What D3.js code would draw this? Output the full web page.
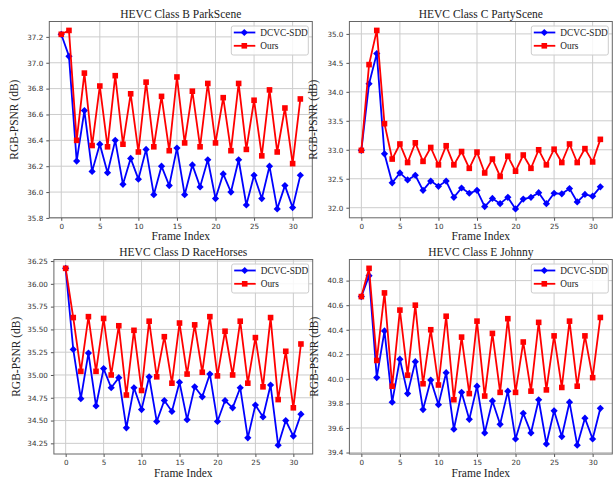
<!DOCTYPE html>
<html>
<head>
<meta charset="utf-8">
<script src="https://cdn.jsdelivr.net/npm/d3@7"></script>
<style>
  body { margin: 0; background: #fff; }
  svg text { font-family: "DejaVu Sans", sans-serif; font-weight: normal; }
</style>
</head>
<body>
<script>
// frame index on x
var frames = [0,1,2,3,4,5,6,7,8,9,10,11,12,13,14,15,16,17,18,19,20,21,22,23,24,25,26,27,28,29,30,31];
var seriesNames = ["DCVC-SDD", "Ours"];
var titles = ["HEVC Class B ParkScene", "HEVC Class C PartyScene", "HEVC Class D RaceHorses", "HEVC Class E Johnny"];
var xTicks = [0, 5, 10, 15, 20, 25, 30];

// Class B ParkScene
var bDcvc = [37.22,37.05,36.24,36.63,36.16,36.37,36.15,36.40,36.06,36.26,36.10,36.33,35.98,36.20,36.05,36.34,
             35.98,36.21,36.04,36.25,35.95,36.14,36.00,36.25,35.90,36.13,35.95,36.20,35.87,36.05,35.88,36.13];
var bOurs  = [37.22,37.25,36.40,36.92,36.36,36.82,36.35,36.90,36.37,36.76,36.31,36.85,36.35,36.74,36.32,36.89,
             36.38,36.78,36.35,36.84,36.38,36.73,36.32,36.84,36.33,36.71,36.28,36.79,36.31,36.65,36.22,36.72];
var bTicks = [35.8, 36.0, 36.2, 36.4, 36.6, 36.8, 37.0, 37.2];

// Class C PartyScene
var cDcvc = [32.99,34.14,34.66,32.93,32.43,32.60,32.48,32.56,32.30,32.46,32.37,32.46,32.18,32.34,32.25,32.30,
             32.02,32.16,32.07,32.18,31.98,32.15,32.18,32.26,32.07,32.25,32.24,32.33,32.10,32.23,32.20,32.36];
var cOurs  = [32.99,34.47,35.06,33.45,32.84,33.10,32.78,33.12,32.80,33.04,32.74,33.07,32.74,32.97,32.68,32.96,
             32.60,32.84,32.54,32.89,32.63,32.91,32.68,33.00,32.74,33.01,32.78,33.10,32.78,33.02,32.79,33.18];
var cTicks = [32.0, 32.5, 33.0, 33.5, 34.0, 34.5, 35.0];

// Class D RaceHorses
var dDcvc = [36.17,35.28,34.74,35.24,34.66,35.07,34.86,34.97,34.42,34.86,34.62,34.98,34.49,34.72,34.60,34.92,
             34.51,34.87,34.76,35.01,34.49,34.72,34.64,34.86,34.31,34.67,34.54,34.89,34.23,34.50,34.33,34.57];
var dOurs  = [36.17,35.63,35.04,35.64,35.04,35.62,35.00,35.54,34.78,35.49,34.83,35.59,34.98,35.42,34.91,35.57,
             35.01,35.55,35.03,35.64,34.99,35.48,35.00,35.59,34.91,35.41,34.87,35.63,34.73,35.26,34.64,35.34];
var dTicks = [34.25, 34.50, 34.75, 35.00, 35.25, 35.50, 35.75, 36.00, 36.25];

// Class E Johnny
var eDcvc = [40.67,40.84,40.01,40.39,39.81,40.16,39.88,40.14,39.75,39.99,39.79,40.05,39.59,39.89,39.67,39.94,
             39.56,39.82,39.63,39.90,39.51,39.72,39.56,39.83,39.47,39.74,39.53,39.81,39.46,39.68,39.51,39.76];
var eOurs  = [40.67,40.90,40.15,40.70,39.94,40.56,40.03,40.60,39.96,40.40,39.95,40.51,39.83,40.34,39.88,40.47,
             39.86,40.37,39.89,40.49,39.89,40.30,39.90,40.46,39.91,40.35,39.93,40.47,39.94,40.35,40.01,40.50];
var eTicks = [39.4, 39.6, 39.8, 40.0, 40.2, 40.4, 40.6, 40.8];

var width = 613, height = 479;
var colors = ["#0000ff", "#ff0000"];
var serif = "'Liberation Serif', 'Times New Roman', serif";

var svg = d3.select("body").append("svg")
    .attr("width", width)
    .attr("height", height);

// axes boxes in pixels; lab = y label offset from left spine
var panels = [
  { box: [49.3, 312.3, 21.5, 217.8], lab: 31, series: [bDcvc, bOurs], ticks: bTicks, fmt: d3.format(".1f") },
  { box: [349.4, 612.3, 21.5, 217.8], lab: 32, series: [cDcvc, cOurs], ticks: cTicks, fmt: d3.format(".1f") },
  { box: [53.9, 312.7, 259.5, 454], lab: 34, series: [dDcvc, dOurs], ticks: dTicks, fmt: d3.format(".2f") },
  { box: [349.4, 612.3, 259.5, 454], lab: 31, series: [eDcvc, eOurs], ticks: eTicks, fmt: d3.format(".1f") }
];

var diamond = function(r) {
  return "M0," + (-r) + "L" + r + ",0L0," + r + "L" + (-r) + ",0Z";
};

panels.forEach(function(p, i) {
  var x0 = p.box[0], x1 = p.box[1], y0 = p.box[2], y1 = p.box[3];

  var xExt = d3.extent(frames), xPad = (xExt[1] - xExt[0]) * 0.05;
  var x = d3.scaleLinear().domain([xExt[0] - xPad, xExt[1] + xPad]).range([x0, x1]);

  var yExt = d3.extent(p.series[0].concat(p.series[1])), yPad = (yExt[1] - yExt[0]) * 0.05;
  var y = d3.scaleLinear().domain([yExt[0] - yPad, yExt[1] + yPad]).range([y1, y0]);

  var g = svg.append("g");

  // grid
  g.append("g").selectAll("line.gx").data(xTicks).enter().append("line")
    .attr("x1", function(d) { return x(d); }).attr("x2", function(d) { return x(d); })
    .attr("y1", y0).attr("y2", y1)
    .attr("stroke", "#cccccc").attr("stroke-width", 1);
  g.append("g").selectAll("line.gy").data(p.ticks).enter().append("line")
    .attr("x1", x0).attr("x2", x1)
    .attr("y1", function(d) { return y(d); }).attr("y2", function(d) { return y(d); })
    .attr("stroke", "#cccccc").attr("stroke-width", 1);

  // axes
  var xAxis = g.append("g")
    .attr("transform", "translate(0," + y1 + ")")
    .call(d3.axisBottom(x).tickValues(xTicks).tickSize(3).tickPadding(3));
  var yAxis = g.append("g")
    .attr("transform", "translate(" + x0 + ",0)")
    .call(d3.axisLeft(y).tickValues(p.ticks).tickFormat(p.fmt).tickSize(3).tickPadding(3));
  [xAxis, yAxis].forEach(function(a) {
    a.select(".domain").remove();
    a.selectAll(".tick line").attr("stroke", "#555");
    a.selectAll(".tick text").attr("fill", "#333").style("font-size", "7.2px")
      .style("font-family", "'DejaVu Sans', sans-serif");
  });

  // frame
  g.append("rect")
    .attr("x", x0).attr("y", y0)
    .attr("width", x1 - x0).attr("height", y1 - y0)
    .attr("fill", "none").attr("stroke", "#666").attr("stroke-width", 1);

  // lines and markers
  p.series.forEach(function(vals, s) {
    var line = d3.line()
      .x(function(d, k) { return x(frames[k]); })
      .y(function(d) { return y(d); });
    g.append("path").datum(vals)
      .attr("d", line)
      .attr("fill", "none")
      .attr("stroke", colors[s])
      .attr("stroke-width", 1.8);
    if (s === 0) {
      g.selectAll("path.m" + i).data(vals).enter().append("path")
        .attr("transform", function(d, k) { return "translate(" + x(frames[k]) + "," + y(d) + ")"; })
        .attr("d", diamond(3.6))
        .attr("fill", colors[s]);
    } else {
      g.selectAll("rect.m" + i).data(vals).enter().append("rect")
        .attr("x", function(d, k) { return x(frames[k]) - 2.8; })
        .attr("y", function(d) { return y(d) - 2.8; })
        .attr("width", 5.6).attr("height", 5.6)
        .attr("fill", colors[s]);
    }
  });

  // title and labels
  svg.append("text")
    .attr("x", (x0 + x1) / 2).attr("y", y0 - 4)
    .attr("text-anchor", "middle")
    .style("font-family", serif).style("font-size", "11.5px")
    .attr("fill", "#222")
    .text(titles[i]);
  svg.append("text")
    .attr("x", (x0 + x1) / 2).attr("y", y1 + 22.5)
    .attr("text-anchor", "middle")
    .style("font-family", serif).style("font-size", "11.5px")
    .attr("fill", "#222")
    .text("Frame Index");
  svg.append("text")
    .attr("transform", "translate(" + (x0 - p.lab) + "," + ((y0 + y1) / 2) + ") rotate(-90)")
    .attr("text-anchor", "middle")
    .style("font-family", serif).style("font-size", "11.5px")
    .attr("fill", "#222")
    .text("RGB-PSNR (dB)");

  // legend
  var lw = 77, lh = 29;
  var lg = g.append("g").attr("transform", "translate(" + (x1 - 4 - lw) + "," + (y0 + 4.5) + ")");
  lg.append("rect")
    .attr("width", lw).attr("height", lh).attr("rx", 2)
    .attr("fill", "#fff").attr("fill-opacity", 0.85)
    .attr("stroke", "#cccccc").attr("stroke-width", 1);
  seriesNames.forEach(function(name, s) {
    var ry = 6.5 + s * 13.3;
    lg.append("line")
      .attr("x1", 2.5).attr("x2", 24).attr("y1", ry).attr("y2", ry)
      .attr("stroke", colors[s]).attr("stroke-width", 1.8);
    if (s === 0) {
      lg.append("path").attr("transform", "translate(13," + ry + ")")
        .attr("d", diamond(3.6)).attr("fill", colors[s]);
    } else {
      lg.append("rect").attr("x", 13 - 2.8).attr("y", ry - 2.8)
        .attr("width", 5.6).attr("height", 5.6).attr("fill", colors[s]);
    }
    lg.append("text")
      .attr("x", 29).attr("y", ry + 3.2)
      .style("font-family", serif).style("font-size", "9.3px")
      .attr("fill", "#222")
      .text(name);
  });
});
</script>
</body>
</html>
